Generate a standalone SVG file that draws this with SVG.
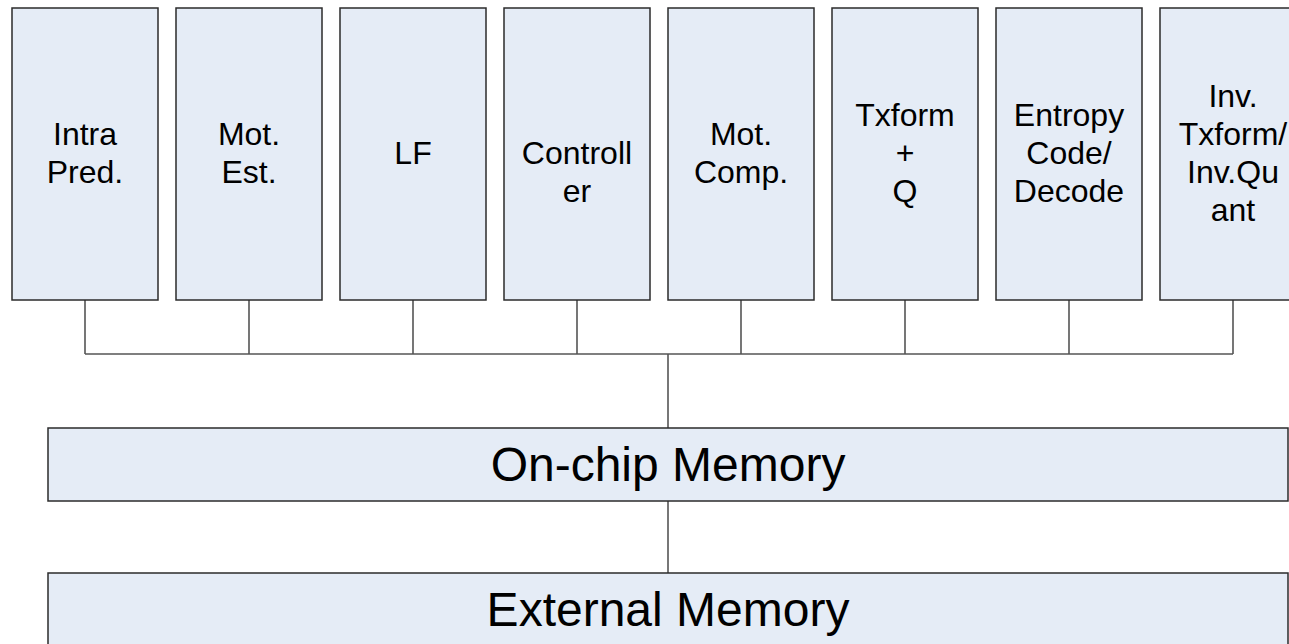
<svg xmlns="http://www.w3.org/2000/svg" width="1289" height="644" viewBox="0 0 1289 644">
  <style>
    .blk { fill: #E5ECF6; stroke: #2b2b2b; stroke-width: 1.5; }
    .lbl { font-family: "Liberation Sans", Arial, sans-serif; font-size: 32px; fill: #000; text-anchor: middle; }
    .big { font-family: "Liberation Sans", Arial, sans-serif; font-size: 48px; fill: #000; text-anchor: middle; }
    .wire { fill: none; stroke: #555; stroke-width: 1.6; }
  </style>
  <rect width="1289" height="644" fill="#fff"/>

  <!-- bus wiring between the processing blocks and on-chip memory -->
  <g id="connectors">
    <path class="wire" d="M85 300V354M249 300V354M413 300V354M577 300V354M741 300V354M905 300V354M1069 300V354M1233 300V354"/>
    <path class="wire" d="M85 354H1233"/>
    <path class="wire" d="M668 354V428"/>
    <path class="wire" d="M668 501V573"/>
  </g>

  <g id="intra-pred">
    <rect class="blk" x="12" y="8" width="146" height="292"/>
    <text class="lbl" x="85" y="145">Intra</text>
    <text class="lbl" x="85" y="183">Pred.</text>
  </g>
  <g id="mot-est">
    <rect class="blk" x="176" y="8" width="146" height="292"/>
    <text class="lbl" x="249" y="145">Mot.</text>
    <text class="lbl" x="249" y="183">Est.</text>
  </g>
  <g id="lf">
    <rect class="blk" x="340" y="8" width="146" height="292"/>
    <text class="lbl" x="413" y="164">LF</text>
  </g>
  <g id="controller">
    <rect class="blk" x="504" y="8" width="146" height="292"/>
    <text class="lbl" x="577" y="164">Controll</text>
    <text class="lbl" x="577" y="202">er</text>
  </g>
  <g id="mot-comp">
    <rect class="blk" x="668" y="8" width="146" height="292"/>
    <text class="lbl" x="741" y="145">Mot.</text>
    <text class="lbl" x="741" y="183">Comp.</text>
  </g>
  <g id="txform-q">
    <rect class="blk" x="832" y="8" width="146" height="292"/>
    <text class="lbl" x="905" y="126">Txform</text>
    <text class="lbl" x="905" y="164">+</text>
    <text class="lbl" x="905" y="202">Q</text>
  </g>
  <g id="entropy">
    <rect class="blk" x="996" y="8" width="146" height="292"/>
    <text class="lbl" x="1069" y="126">Entropy</text>
    <text class="lbl" x="1069" y="164">Code/</text>
    <text class="lbl" x="1069" y="202">Decode</text>
  </g>
  <g id="inv-txform">
    <rect class="blk" x="1160" y="8" width="146" height="292"/>
    <text class="lbl" x="1233" y="107">Inv.</text>
    <text class="lbl" x="1233" y="145">Txform/</text>
    <text class="lbl" x="1233" y="183">Inv.Qu</text>
    <text class="lbl" x="1233" y="221">ant</text>
  </g>

  <g id="onchip-memory">
    <rect class="blk" x="48" y="428" width="1240" height="73"/>
    <text class="big" x="668" y="481">On-chip Memory</text>
  </g>
  <g id="external-memory">
    <rect class="blk" x="48" y="573" width="1240" height="90"/>
    <text class="big" x="668" y="626">External Memory</text>
  </g>
</svg>
